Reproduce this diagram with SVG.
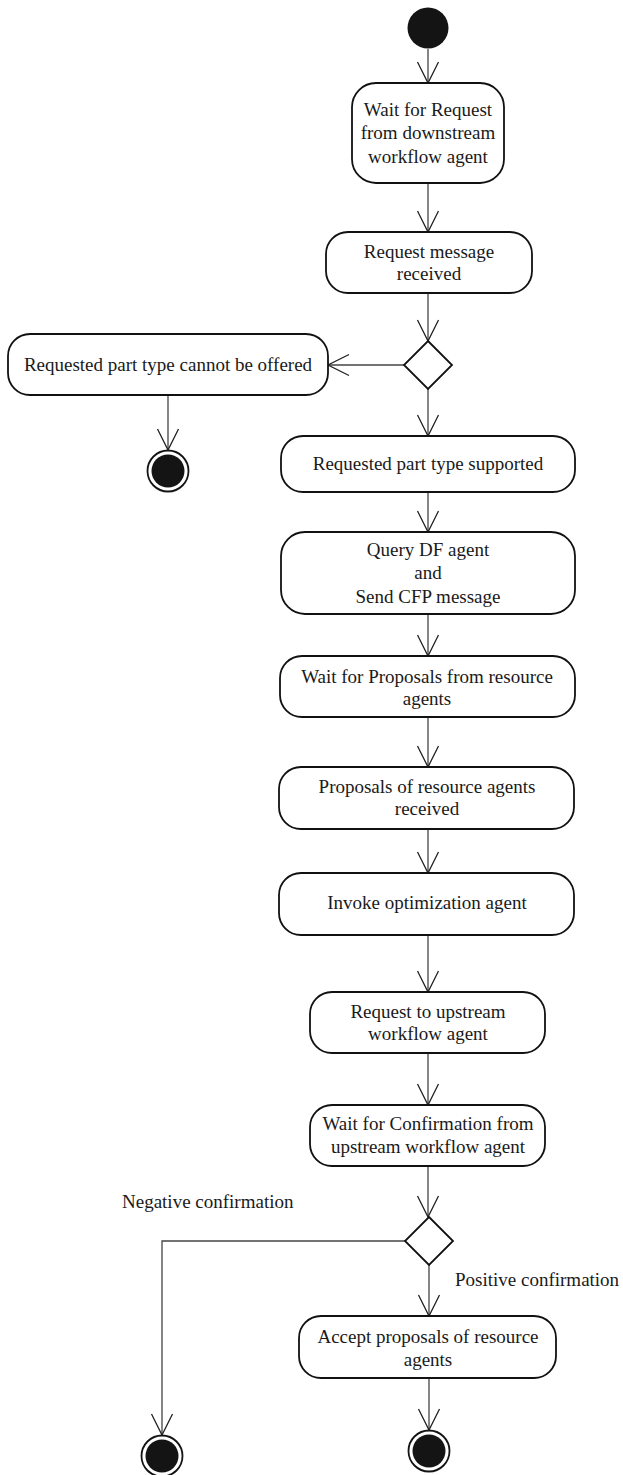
<svg xmlns="http://www.w3.org/2000/svg" width="623" height="1475" viewBox="0 0 623 1475">
<style>
.box{fill:#fff;stroke:#111;stroke-width:1.8}
.t{font-family:"Liberation Serif","Times New Roman",serif;font-size:19px;fill:#1a1a1a;text-anchor:middle}
.l{font-family:"Liberation Serif","Times New Roman",serif;font-size:19px;fill:#1a1a1a}
.c{fill:none;stroke:#444;stroke-width:1.3}
.dia{fill:#fff;stroke:#111;stroke-width:1.8}
.start{fill:#141414}
.endo{fill:#fff;stroke:#141414;stroke-width:1.8}
.endi{fill:#141414}
</style>
<defs>
<marker id="arr" viewBox="-23 -12 25 24" refX="0" refY="0" markerWidth="25" markerHeight="24" markerUnits="userSpaceOnUse" orient="auto">
<path d="M-21,-10.5 L0,0 L-21,10.5" fill="none" stroke="#222" stroke-width="1.3"/>
</marker>
</defs>
<rect width="623" height="1475" fill="#fff"/>
<g id="connectors">
<line class="c" x1="428" y1="49" x2="428" y2="83" marker-end="url(#arr)"/>
<line class="c" x1="428" y1="183" x2="428" y2="232" marker-end="url(#arr)"/>
<line class="c" x1="428" y1="293" x2="428" y2="341" marker-end="url(#arr)"/>
<line class="c" x1="404" y1="365" x2="328" y2="365" marker-end="url(#arr)"/>
<line class="c" x1="168" y1="395" x2="168" y2="450" marker-end="url(#arr)"/>
<line class="c" x1="428" y1="389" x2="428" y2="436" marker-end="url(#arr)"/>
<line class="c" x1="428" y1="492" x2="428" y2="532" marker-end="url(#arr)"/>
<line class="c" x1="428" y1="614" x2="428" y2="656" marker-end="url(#arr)"/>
<line class="c" x1="428" y1="717" x2="428" y2="767" marker-end="url(#arr)"/>
<line class="c" x1="428" y1="829" x2="428" y2="873" marker-end="url(#arr)"/>
<line class="c" x1="428" y1="935" x2="428" y2="992" marker-end="url(#arr)"/>
<line class="c" x1="428" y1="1053" x2="428" y2="1105" marker-end="url(#arr)"/>
<line class="c" x1="428" y1="1166" x2="428" y2="1217" marker-end="url(#arr)"/>
<polyline class="c" points="405,1241 162,1241 162,1435" marker-end="url(#arr)"/>
<line class="c" x1="429" y1="1265" x2="429" y2="1316" marker-end="url(#arr)"/>
<line class="c" x1="429" y1="1378" x2="429" y2="1430" marker-end="url(#arr)"/>
</g>
<g id="start"><circle class="start" cx="428" cy="28" r="20.5"/></g>
<g id="n1">
<rect class="box" x="352" y="83" width="152" height="100" rx="24" ry="24"/>
<text class="t" x="428" y="116">Wait for Request</text>
<text class="t" x="428" y="139">from downstream</text>
<text class="t" x="428" y="163">workflow agent</text>
</g>
<g id="n2">
<rect class="box" x="326" y="232" width="206" height="61" rx="22" ry="22"/>
<text class="t" x="429" y="258">Request message</text>
<text class="t" x="429" y="280">received</text>
</g>
<g id="d1"><polygon class="dia" points="428,341 452,365 428,389 404,365"/></g>
<g id="n3">
<rect class="box" x="8" y="334" width="320" height="61" rx="22" ry="22"/>
<text class="t" x="168" y="371">Requested part type cannot be offered</text>
</g>
<g id="end1">
<circle class="endo" cx="168" cy="471" r="20.5"/>
<circle class="endi" cx="168" cy="471" r="16.5"/>
</g>
<g id="n4">
<rect class="box" x="281" y="436" width="294" height="56" rx="22" ry="22"/>
<text class="t" x="428" y="470">Requested part type supported</text>
</g>
<g id="n5">
<rect class="box" x="281" y="532" width="294" height="82" rx="24" ry="24"/>
<text class="t" x="428" y="556">Query DF agent</text>
<text class="t" x="428" y="579">and</text>
<text class="t" x="428" y="603">Send CFP message</text>
</g>
<g id="n6">
<rect class="box" x="280" y="656" width="295" height="61" rx="22" ry="22"/>
<text class="t" x="427" y="683">Wait for Proposals from resource</text>
<text class="t" x="427" y="705">agents</text>
</g>
<g id="n7">
<rect class="box" x="279" y="767" width="295" height="62" rx="22" ry="22"/>
<text class="t" x="427" y="793">Proposals of resource agents</text>
<text class="t" x="427" y="815">received</text>
</g>
<g id="n8">
<rect class="box" x="279" y="873" width="295" height="62" rx="22" ry="22"/>
<text class="t" x="427" y="909">Invoke optimization agent</text>
</g>
<g id="n9">
<rect class="box" x="310" y="992" width="235" height="61" rx="22" ry="22"/>
<text class="t" x="428" y="1018">Request to upstream</text>
<text class="t" x="428" y="1040">workflow agent</text>
</g>
<g id="n10">
<rect class="box" x="310" y="1105" width="235" height="61" rx="22" ry="22"/>
<text class="t" x="428" y="1130">Wait for Confirmation from</text>
<text class="t" x="428" y="1153">upstream workflow agent</text>
</g>
<g id="d2"><polygon class="dia" points="429,1217 453,1241 429,1265 405,1241"/></g>
<g id="lbl-neg"><text class="l" x="122" y="1208">Negative confirmation</text></g>
<g id="lbl-pos"><text class="l" x="455" y="1286">Positive confirmation</text></g>
<g id="n11">
<rect class="box" x="299" y="1316" width="257" height="62" rx="22" ry="22"/>
<text class="t" x="428" y="1343">Accept proposals of resource</text>
<text class="t" x="428" y="1366">agents</text>
</g>
<g id="end2">
<circle class="endo" cx="162" cy="1456" r="20.5"/>
<circle class="endi" cx="162" cy="1456" r="16.5"/>
</g>
<g id="end3">
<circle class="endo" cx="429" cy="1451" r="20.5"/>
<circle class="endi" cx="429" cy="1451" r="16.5"/>
</g>
</svg>
